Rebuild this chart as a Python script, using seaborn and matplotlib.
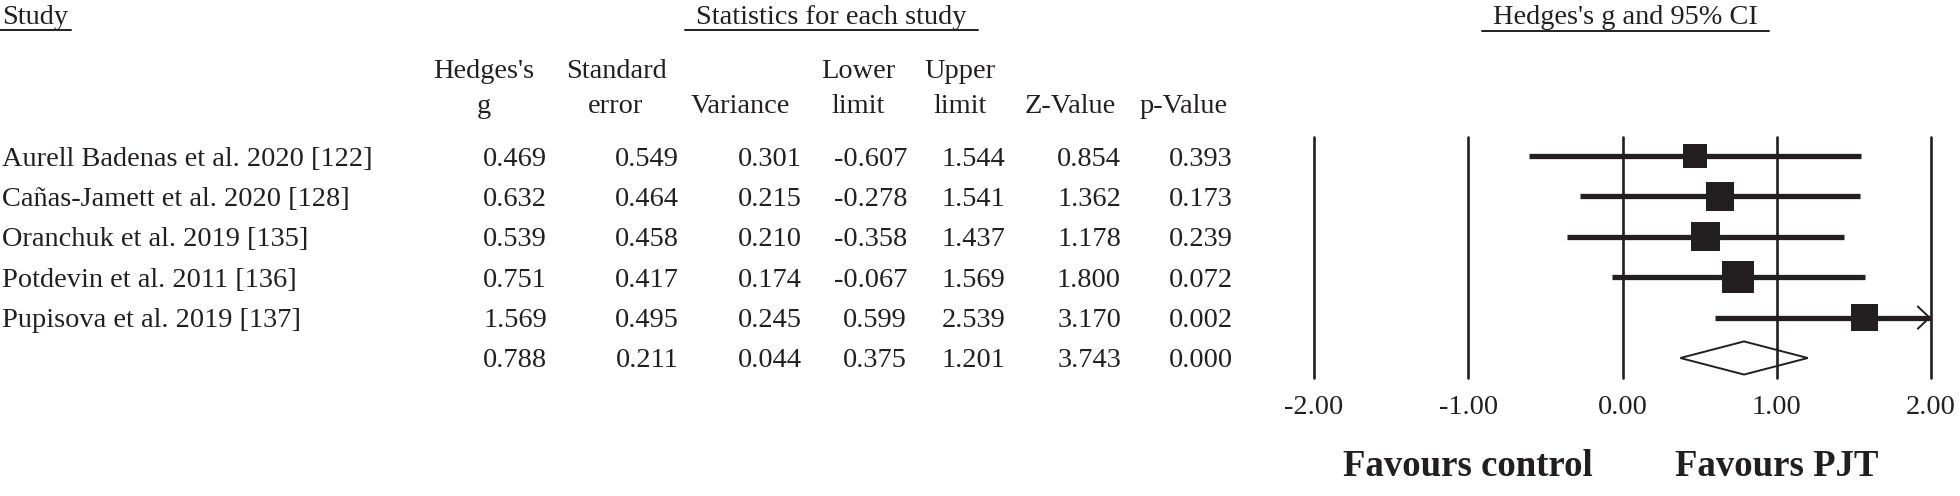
import numpy as np
import pandas as pd
import matplotlib
matplotlib.use("Agg")
import matplotlib.pyplot as plt
import seaborn as sns
from matplotlib.patches import Polygon

# ---------------- data ----------------
studies = ["Aurell Badenas et al. 2020 [122]",
           "Cañas-Jamett et al. 2020 [128]",
           "Oranchuk et al. 2019 [135]",
           "Potdevin et al. 2011 [136]",
           "Pupisova et al. 2019 [137]"]
hedges_g = [0.469, 0.632, 0.539, 0.751, 1.569]
std_err = [0.549, 0.464, 0.458, 0.417, 0.495]
variance = [0.301, 0.215, 0.210, 0.174, 0.245]
lower = [-0.607, -0.278, -0.358, -0.067, 0.599]
upper = [1.544, 1.541, 1.437, 1.569, 2.539]
z_value = [0.854, 1.362, 1.178, 1.800, 3.170]
p_value = [0.393, 0.173, 0.239, 0.072, 0.002]

pooled = [0.788, 0.211, 0.044, 0.375, 1.201, 3.743, 0.000]  # g, se, var, lower, upper, z, p

col_headers = [("Hedges's", "g"), ("Standard", "error"), ("", "Variance"),
               ("Lower", "limit"), ("Upper", "limit"), ("", "Z-Value"), ("", "p-Value")]
x_ticks = [-2, -1, 0, 1, 2]
x_tick_labels = ["-2.00", "-1.00", "0.00", "1.00", "2.00"]
favour_labels = [(-1, "Favours control"), (1, "Favours PJT")]

# ---------------- style ----------------
sns.set_style("white")
plt.rcParams["font.family"] = ["Liberation Serif", "DejaVu Serif"]
INK = "#231f20"
FS = 20.4
W, H = 1960, 496

fig = plt.figure(figsize=(W / 100, H / 100), dpi=100)
fig.patch.set_facecolor("white")

# table overlay in pixel coordinates
axT = fig.add_axes([0, 0, 1, 1])
axT.set_xlim(0, W)
axT.set_ylim(H, 0)
axT.axis("off")

# top titles with underlines
axT.text(2, 24, "Study", fontsize=FS, color=INK, ha="left", va="baseline")
axT.plot([0, 71], [30, 30], color=INK, lw=1.4)
axT.text(831, 24, "Statistics for each study", fontsize=FS, color=INK, ha="center", va="baseline")
axT.plot([685, 978], [30, 30], color=INK, lw=1.4)
axT.text(1625, 24, "Hedges's g and 95% CI", fontsize=FS, color=INK, ha="center", va="baseline")
axT.plot([1482, 1769], [31, 31], color=INK, lw=1.4)

head_cx = [484, 616, 740, 858, 960, 1070, 1184]
num_rx = [547, 679, 802, 907, 1005, 1121, 1233]
for cx, (l1, l2) in zip(head_cx, col_headers):
    if l1:
        axT.text(cx, 78, l1, fontsize=FS, color=INK, ha="center", va="baseline")
    axT.text(cx, 113, l2, fontsize=FS, color=INK, ha="center", va="baseline")

table_rows = list(zip(hedges_g, std_err, variance, lower, upper, z_value, p_value))
for k, (name, vals) in enumerate(zip(studies + [""], table_rows + [tuple(pooled)])):
    yb = 166 + 40.2 * k
    if name:
        axT.text(2, yb, name, fontsize=FS, color=INK, ha="left", va="baseline")
    for rx, v in zip(num_rx, vals):
        axT.text(rx, yb, f"{v:.3f}", fontsize=FS, color=INK, ha="right", va="baseline")

# ---------------- forest plot ----------------
px_left, px_right, px_top, px_bot = 1314, 1931, 137, 378
ax = fig.add_axes([px_left / W, 1 - px_bot / H, (px_right - px_left) / W, (px_bot - px_top) / H])
ax.set_facecolor("none")
row0, drow = 156, 40.4
rows = list(range(len(studies)))
sum_row = len(studies)

for xv in x_ticks:
    ax.axvline(xv, color=INK, lw=1.9, clip_on=False, zorder=2)

xmax = max(x_ticks)
up_clip = [min(u, xmax) for u in upper]
ax.hlines(rows, lower, up_clip, color=INK, lw=3.8, zorder=3, clip_on=False)
for r, u in zip(rows, upper):
    if u > xmax:
        ax.annotate("", xy=(xmax, r), xytext=(xmax - 0.3, r),
                    arrowprops=dict(arrowstyle="->,head_length=0.85,head_width=0.8",
                                    lw=1.4, color=INK, shrinkA=0, shrinkB=0),
                    annotation_clip=False, zorder=3)

weights = 1 / np.array(variance)
side_px = 32 * np.sqrt(weights / weights.max())
sizes = (side_px * 0.72) ** 2
df = pd.DataFrame({"g": hedges_g, "row": rows})
sns.scatterplot(data=df, x="g", y="row", s=sizes, marker="s", color=INK,
                edgecolor="none", linewidth=0, legend=False, ax=ax, zorder=4, clip_on=False)

pg, plo, phi = pooled[0], pooled[3], pooled[4]
hh = 0.41
ax.add_patch(Polygon([(plo, sum_row), (pg, sum_row - hh), (phi, sum_row), (pg, sum_row + hh)],
                     closed=True, facecolor="none", edgecolor=INK, lw=1.4, zorder=3))

ax.set_xlim(-2, 2)
ax.set_ylim((px_bot - row0) / drow, (px_top - row0) / drow)
ax.set_xlabel("")
ax.set_ylabel("")
ax.set_yticks([])
ax.set_xticks(x_ticks)
ax.set_xticklabels(x_tick_labels)
ax.tick_params(axis="x", length=0, pad=12, labelsize=FS, labelcolor=INK)
for s in ax.spines.values():
    s.set_visible(False)

yf = (px_bot - 467) / (px_bot - px_top)
for xv, lab in favour_labels:
    ax.text(xv, yf, lab, transform=ax.get_xaxis_transform(), ha="center", va="center",
            fontsize=26.5, fontweight="bold", color=INK)

fig.savefig("out.png", dpi=100, facecolor="white")
